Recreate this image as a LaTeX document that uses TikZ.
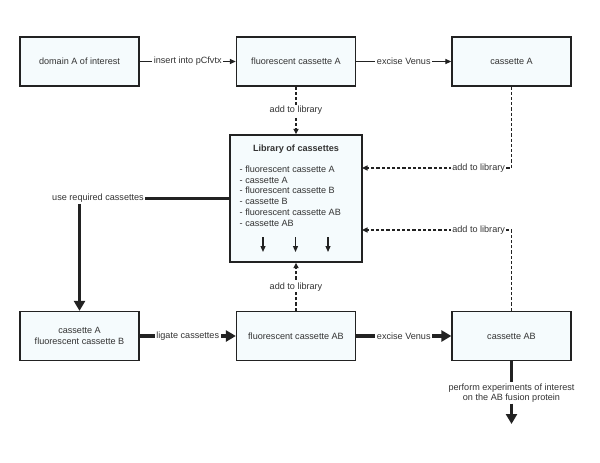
\documentclass[tikz,border=0pt]{standalone}
\usepackage{fontspec}
\setmainfont{Liberation Sans}
\usetikzlibrary{arrows.meta,calc}
\definecolor{boxfill}{HTML}{F5FBFD}
\definecolor{ink}{HTML}{222222}
\definecolor{txt}{HTML}{333333}
\begin{document}
\begin{tikzpicture}[x=1pt,y=-1pt,
  font=\fontsize{9.1}{10.5}\selectfont, text=txt,
  box/.style={draw=ink, line width=1.3pt, fill=boxfill, minimum width=119pt, minimum height=49pt, align=center, inner sep=0pt},
  lbl/.style={fill=white, inner sep=1.5pt, text=txt},
  thinarrow/.style={draw=ink, line width=1.2pt, -{Triangle[length=6pt,width=5pt]}},
  thickarrow/.style={draw=ink, line width=3.5pt, -{Triangle[length=10pt,width=11pt]}},
  thickplain/.style={draw=ink, line width=3.5pt},
  dasharrow/.style={draw=ink, line width=1.3pt, dash pattern=on 3.2pt off 2pt, -{Triangle[length=5.5pt,width=5pt]}},
  smallarrow/.style={draw=ink, line width=1.2pt, -{Triangle[length=6pt,width=5pt]}}
]
\useasboundingbox (0,0) rectangle (600,463);
% boxes
\node[box] (dom) at (79.5,61.5) {domain A of interest};
\node[box] (fca) at (296,61.5) {fluorescent cassette A};
\node[box] (ca)  at (511.5,61.5) {cassette A};
\node[box] (cab) at (79.5,336) {cassette A\\fluorescent cassette B};
\node[box] (fcab) at (296,336) {fluorescent cassette AB};
\node[box] (cAB) at (511.5,336) {cassette AB};
\node[box, minimum width=132pt, minimum height=127pt] (lib) at (296,198.5) {};
\node[font=\fontsize{9.1}{10.5}\selectfont\bfseries] (libt) at (296,149) {Library of cassettes};
\node[anchor=north west, align=left, inner sep=0pt, font=\fontsize{9.1}{10.8}\selectfont] (libl) at (239.5,165.5) {- fluorescent cassette A\\- cassette A\\- fluorescent cassette B\\- cassette B\\- fluorescent cassette AB\\- cassette AB};
% small arrows inside library
\foreach \i/\x in {1/263,2/295.5,3/328}{
  \coordinate (s\i) at (\x,237);
  \coordinate (e\i) at (\x,252);
  \draw[smallarrow] (s\i) -- (e\i);
}
% top row connectors
\draw[thinarrow] (dom.east) -- node[lbl]{insert into pCfvtx} (fca.west);
\draw[thinarrow] (fca.east) -- node[lbl]{excise Venus} (ca.west);
% bottom row connectors
\draw[thickarrow] (cab.east) -- node[lbl]{ligate cassettes} (fcab.west);
\draw[thickarrow] (fcab.east) -- node[lbl]{excise Venus} (cAB.west);
% add to library
\draw[dasharrow] (fca.south) -- node[lbl]{add to library} (lib.north);
\draw[dasharrow] (fcab.north) -- node[lbl]{add to library} (lib.south);
\coordinate (lin1) at (362,168);
\coordinate (lin2) at (362,230);
\draw[dasharrow] (ca.south) |- node[lbl,pos=0.61]{add to library} (lin1);
\draw[dasharrow] (cAB.north) |- node[lbl,pos=0.61]{add to library} (lin2);
% use required cassettes
\node[lbl, inner sep=1pt] (use) at (98,198.5) {use required cassettes};
\draw[thickplain] (lib.west) -- (use.east);
\draw[thickarrow] (use.south -| cab.north) -- (cab.north);
% experiments
\node[lbl, align=center, inner sep=1pt] (exp) at (511.5,393) {perform experiments of interest\\on the AB fusion protein};
\coordinate (endp) at (511.5,424);
\draw[thickplain] (cAB.south) -- (exp.north);
\draw[thickarrow] (exp.south) -- (endp);
\end{tikzpicture}
\end{document}
